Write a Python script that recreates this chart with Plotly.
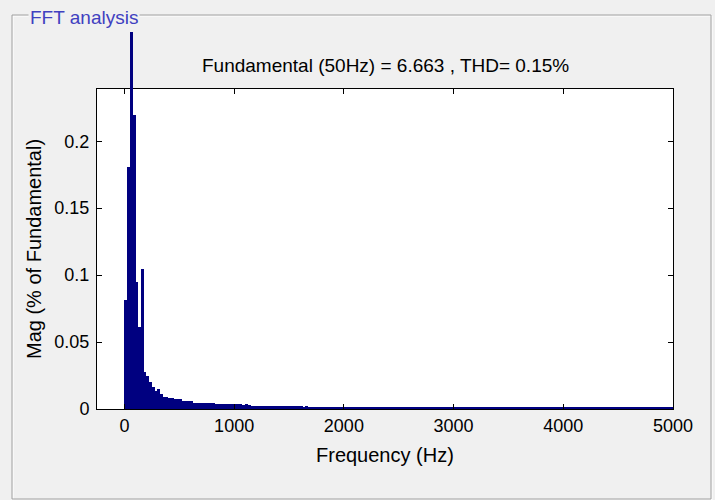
import plotly.graph_objects as go

# ---------------- data ----------------
BIN_HZ = 25  # FFT frequency resolution (Hz)
# magnitude (% of fundamental) per 25 Hz bin, 0 .. 5000 Hz ; fundamental bin = 100
mag = [
    0.0815, 0.1810, 100.0, 0.2197, 0.0947, 0.0610, 0.1046, 0.0279, 0.0245, 0.0200,
    0.0168, 0.0137, 0.0147, 0.0110, 0.0093, 0.0091, 0.0083, 0.0081, 0.0073, 0.0072,
    0.0071, 0.0061, 0.0060, 0.0059, 0.0059, 0.0048, 0.0047, 0.0047, 0.0046, 0.0046,
    0.0046, 0.0045, 0.0045, 0.0036, 0.0035, 0.0035, 0.0035, 0.0035, 0.0034, 0.0035,
    0.0034, 0.0034, 0.0034, 0.0033, 0.0034, 0.0033, 0.0021, 0.0021, 0.0021, 0.0020,
    0.0021, 0.0020, 0.0020, 0.0020, 0.0020, 0.0020, 0.0019, 0.0020, 0.0019, 0.0019,
    0.0019, 0.0019, 0.0019, 0.0019, 0.0019, 0.0018, 0.0019, 0.0018, 0.0018, 0.0018,
    0.0018, 0.0018, 0.0018, 0.0018, 0.0018, 0.0018, 0.0018, 0.0018, 0.0018, 0.0018,
    0.0018, 0.0018, 0.0018, 0.0018, 0.0018, 0.0018, 0.0018, 0.0017, 0.0018, 0.0017,
    0.0017, 0.0017, 0.0017, 0.0017, 0.0017, 0.0017, 0.0017, 0.0017, 0.0017, 0.0017,
    0.0017, 0.0017, 0.0017, 0.0017, 0.0017, 0.0017, 0.0017, 0.0017, 0.0017, 0.0017,
    0.0017, 0.0017, 0.0017, 0.0017, 0.0017, 0.0017, 0.0017, 0.0017, 0.0017, 0.0017,
    0.0017, 0.0017, 0.0017, 0.0017, 0.0017, 0.0017, 0.0017, 0.0017, 0.0017, 0.0017,
    0.0017, 0.0017, 0.0017, 0.0017, 0.0017, 0.0017, 0.0017, 0.0017, 0.0017, 0.0017,
    0.0017, 0.0017, 0.0017, 0.0017, 0.0017, 0.0017, 0.0017, 0.0017, 0.0017, 0.0017,
    0.0017, 0.0017, 0.0017, 0.0017, 0.0017, 0.0017, 0.0017, 0.0017, 0.0017, 0.0017,
    0.0017, 0.0017, 0.0017, 0.0017, 0.0017, 0.0017, 0.0017, 0.0017, 0.0017, 0.0017,
    0.0017, 0.0017, 0.0017, 0.0017, 0.0017, 0.0017, 0.0017, 0.0017, 0.0017, 0.0017,
    0.0017, 0.0017, 0.0017, 0.0017, 0.0017, 0.0017, 0.0017, 0.0017, 0.0017, 0.0017,
    0.0017, 0.0017, 0.0017, 0.0017, 0.0017, 0.0017, 0.0017, 0.0017, 0.0017, 0.0017,
    0.0017,
]
freq = [BIN_HZ * i for i in range(len(mag))]
fundamental_hz = 50

x_ticks = [0, 1000, 2000, 3000, 4000, 5000]
x_tick_text = ["0", "1000", "2000", "3000", "4000", "5000"]
y_ticks = [0, 0.05, 0.1, 0.15, 0.2]
y_tick_text = ["0", "0.05", "0.1", "0.15", "0.2"]

title_text = "Fundamental (50Hz) = 6.663 , THD= 0.15%"
panel_title = "FFT analysis"
x_title = "Frequency (Hz)"
y_title = "Mag (% of Fundamental)"

# ---------------- layout geometry (pixels) ----------------
W, H = 715, 500
L, R = 97, 673          # axes box left / right
TOP, BOT = 89, 409      # axes box top / bottom
SPIKE_TOP = 32          # how far the clipped fundamental bar sticks out
YMAX = 0.239
XRANGE = [-250, 5000]

plot_h = BOT - SPIKE_TOP
plot_w = R - L
d = (BOT - TOP) / plot_h
ymax2 = YMAX * (BOT - SPIKE_TOP) / (BOT - TOP)

def px(xp):
    return (xp - L) / plot_w

def py(yp):
    return (BOT - yp) / plot_h

FONT = "Liberation Sans, Arial, Helvetica, sans-serif"
BAR = "#000080"
PANEL = "#f0f0f0"

fig = go.Figure()
fig.add_trace(go.Bar(
    x=freq, y=mag, offset=0, width=BIN_HZ * 1.04,
    marker=dict(color=BAR, line=dict(width=0)),
    xaxis="x", yaxis="y", showlegend=False, hoverinfo="x+y",
))
# portion of the fundamental bar that overflows the axes box
fig.add_trace(go.Bar(
    x=[f for f in freq if f == fundamental_hz],
    y=[m for f, m in zip(freq, mag) if f == fundamental_hz],
    offset=0, width=BIN_HZ,
    marker=dict(color=BAR, line=dict(width=0)),
    xaxis="x", yaxis="y2", showlegend=False, hoverinfo="skip",
))

axis_common = dict(
    showline=True, linecolor="black", linewidth=1, mirror="ticks",
    ticks="inside", ticklen=5, tickcolor="black", tickwidth=1,
    showgrid=False, zeroline=False,
    tickfont=dict(family=FONT, size=18, color="black"),
)

fig.update_layout(
    width=W, height=H,
    margin=dict(l=L, r=W - R, t=SPIKE_TOP, b=H - BOT, autoexpand=False),
    paper_bgcolor=PANEL, plot_bgcolor="rgba(0,0,0,0)",
    bargap=0,
    xaxis=dict(range=XRANGE, tickvals=x_ticks, ticktext=x_tick_text,
               anchor="y", **axis_common),
    yaxis=dict(range=[0, YMAX], domain=[0, d], tickvals=y_ticks,
               ticktext=y_tick_text, anchor="x", ticklabelstandoff=3, **axis_common),
    yaxis2=dict(range=[YMAX, ymax2], domain=[d, 1], anchor="x", visible=False,
                showgrid=False, zeroline=False),
)

shapes = [
    # white axes background
    dict(type="rect", xref="x domain", yref="y domain", x0=0, x1=1, y0=0, y1=1,
         fillcolor="white", line=dict(width=0), layer="below"),
    # etched panel border
    dict(type="rect", xref="paper", yref="paper", x0=px(13), x1=px(712), y0=py(16), y1=py(500),
         line=dict(color="white", width=1), fillcolor="rgba(0,0,0,0)", layer="below"),
    dict(type="rect", xref="paper", yref="paper", x0=px(12), x1=px(711), y0=py(15), y1=py(499),
         line=dict(color="#a0a0a0", width=1), fillcolor="rgba(0,0,0,0)", layer="below"),
]
fig.update_layout(shapes=shapes)

fig.add_annotation(text=panel_title, xref="paper", yref="paper",
                   x=px(28), y=py(17), xanchor="left", yanchor="middle",
                   showarrow=False, bgcolor=PANEL, borderpad=1,
                   font=dict(family=FONT, size=19, color="#4040c0"))
fig.add_annotation(text=title_text, xref="paper", yref="paper",
                   x=px((L + R) / 2), y=py(66), xanchor="center", yanchor="middle",
                   showarrow=False, font=dict(family=FONT, size=19, color="black"))
fig.add_annotation(text=x_title, xref="paper", yref="paper",
                   x=px((L + R) / 2), y=py(455), xanchor="center", yanchor="middle",
                   showarrow=False, font=dict(family=FONT, size=20, color="black"))
fig.add_annotation(text=y_title, xref="paper", yref="paper",
                   x=px(34), y=py((TOP + BOT) / 2), xanchor="center", yanchor="middle",
                   textangle=-90, showarrow=False,
                   font=dict(family=FONT, size=20, color="black"))

fig.write_html(
    "out.html",
    config={"displayModeBar": False},
    post_script="document.body.style.margin='0px';"
                "document.body.style.background='%s';" % PANEL,
)
